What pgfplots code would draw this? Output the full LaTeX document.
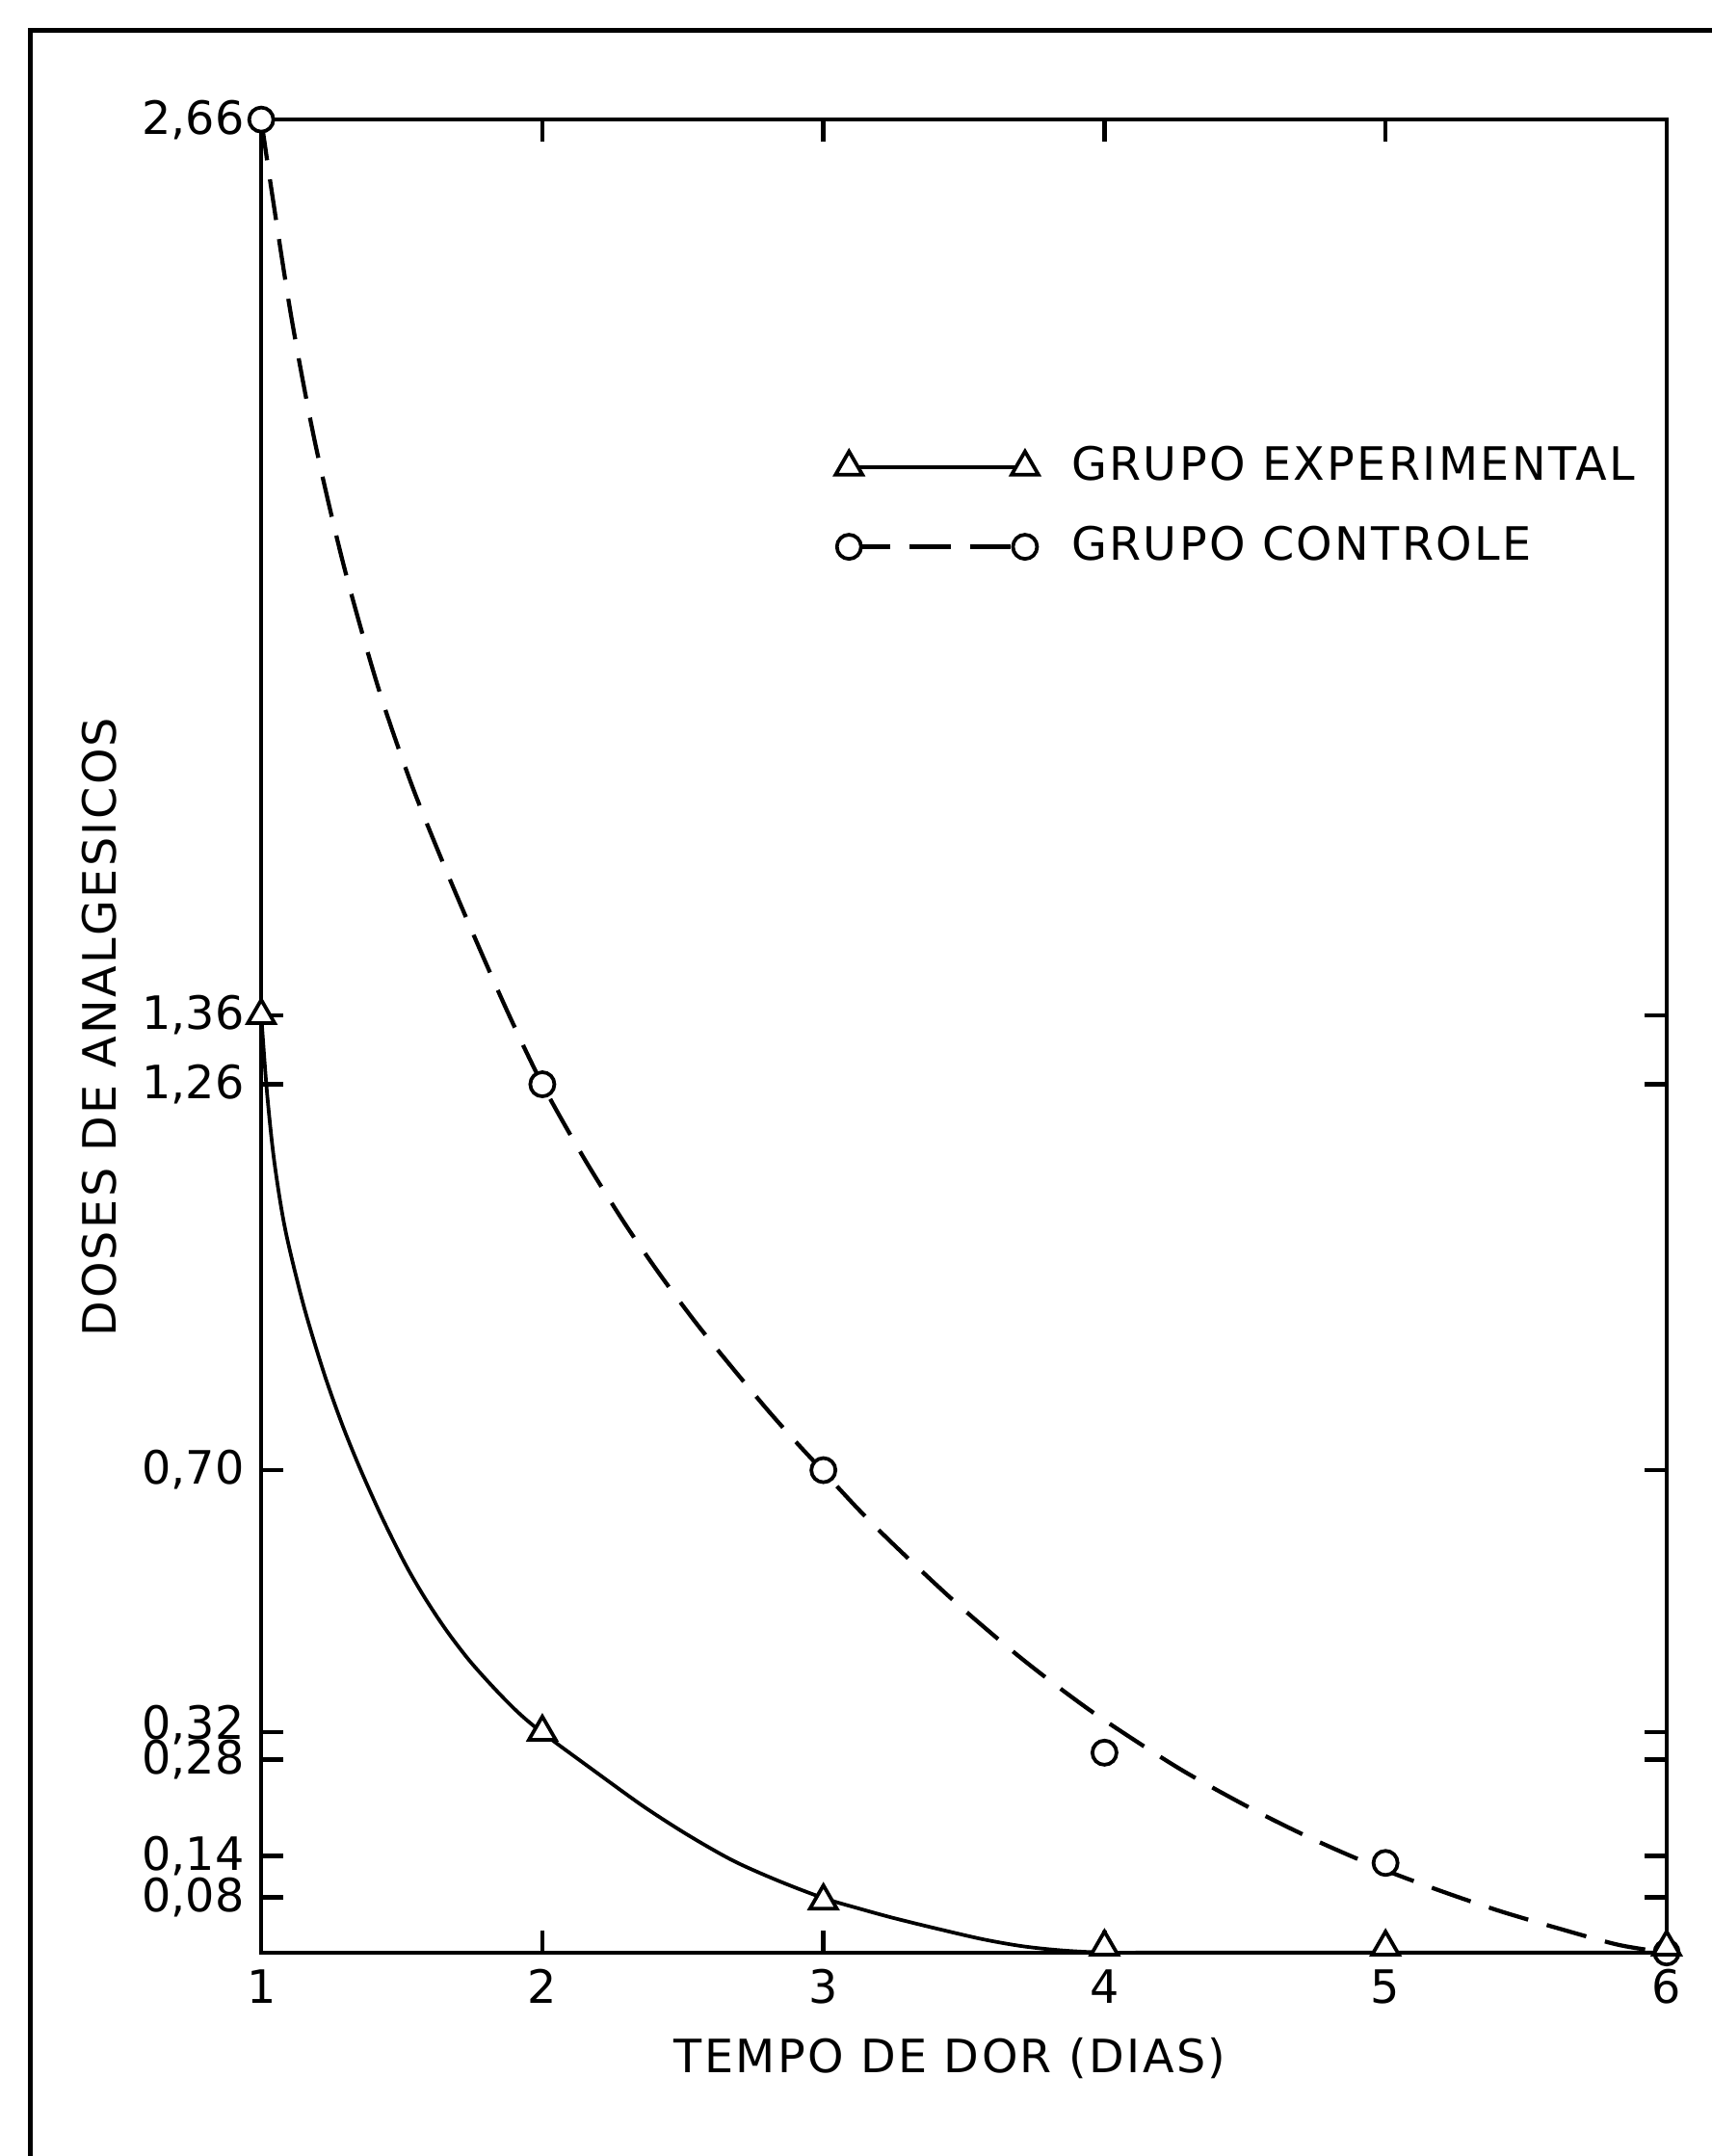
\documentclass[border=0pt]{standalone}
\usepackage{fontspec}
\setmainfont{DejaVu Sans}
\newfontfamily\lbl{DejaVu Sans}[LetterSpace=5]
\usepackage{pgfplots}
\pgfplotsset{compat=1.18}
\begin{document}
\begin{tikzpicture}
\useasboundingbox (-1.90cm,-1.48cm) rectangle (10.55cm,14.20cm);
\fill[white] (-1.90cm,-1.48cm) rectangle (10.55cm,14.20cm);
\draw[line width=1.1pt] (-1.68cm,-1.48cm) -- (-1.68cm,13.98cm) -- (10.55cm,13.98cm);
\begin{axis}[
  at={(0,0)}, anchor=south west,
  scale only axis, width=10.22cm, height=13.33cm,
  xmin=1, xmax=6, ymin=0, ymax=2.66,
  clip=false,
  axis line style={line width=0.9pt},
  tick align=inside,
  major tick length=1.6mm,
  every tick/.style={black, line width=0.9pt},
  xtick={1,2,3,4,5,6}, xticklabels={1,2,3,4,5,6},
  ytick={0.08,0.14,0.28,0.32,0.70,1.26,1.36,2.66},
  yticklabels={{0,08},{0,14},{\raisebox{-1.4mm}{0,28}},{\raisebox{1.4mm}{0,32}},{0,70},{1,26},{1,36},{2,66}},
  tick label style={font=\fontsize{9.5}{11}\selectfont},
  xlabel={TEMPO DE DOR (DIAS)},
  ylabel={DOSES DE ANALGESICOS},
  label style={font=\lbl\fontsize{9.5}{11}\selectfont},
  xlabel style={at={(axis description cs:0.49,-0.0578)}, anchor=center},
  ylabel style={at={(axis description cs:-0.1155,0.505)}, anchor=center},
  legend style={at={(axis cs:3.04,2.098)}, anchor=west, draw=none, fill=none,
    inner sep=0pt, row sep=1.4mm, font=\lbl\fontsize{9.5}{11}\selectfont,
    /tikz/every odd column/.append style={column sep=1.7mm}},
  legend cell align=left,
  legend image code/.code={\draw[#1] plot coordinates {(0cm,0cm) (1.28cm,0cm)};},
]
\addplot[black, line width=0.75pt, smooth, forget plot] coordinates {
 (1.000,1.360) (1.020,1.250) (1.046,1.149) (1.085,1.050) (1.150,0.940)
 (1.223,0.841) (1.290,0.764) (1.354,0.700) (1.430,0.631) (1.512,0.564)
 (1.580,0.516) (1.656,0.469) (1.740,0.424) (1.830,0.383) (1.915,0.348)
 (2.000,0.319) (2.180,0.265) (2.360,0.212) (2.520,0.170) (2.680,0.133)
 (2.840,0.104) (3.000,0.079) (3.125,0.064) (3.250,0.050) (3.410,0.034)
 (3.570,0.019) (3.710,0.009) (3.850,0.003) (4.000,0.000) (4.250,0.000)
 (4.500,0.000) (5.000,0.000) (5.500,0.000) (6.000,0.000)};
% control curve
\addplot[black, line width=0.85pt, smooth, dash pattern=on 8.5pt off 4pt, forget plot] coordinates {
 (1.000,2.660) (1.039,2.551) (1.108,2.371) (1.191,2.192) (1.294,2.012)
 (1.416,1.836) (1.533,1.697) (1.651,1.577) (1.768,1.465) (1.881,1.361)
 (2.000,1.260) (2.145,1.155) (2.290,1.060) (2.420,0.983) (2.550,0.912)
 (2.675,0.849) (2.800,0.788) (2.900,0.742) (3.000,0.698) (3.125,0.643)
 (3.250,0.592) (3.465,0.510) (3.680,0.435) (3.840,0.384) (4.000,0.337)
 (4.270,0.266) (4.540,0.205) (4.755,0.162) (4.970,0.124) (5.185,0.091)
 (5.400,0.061) (5.615,0.035) (5.830,0.011) (6.000,0.000)};
% markers
\addplot[only marks, mark=*, mark size=2.5pt, mark options={fill=white, draw=black, line width=0.75pt}, forget plot] coordinates {
 (1,2.66) (2,1.26) (3,0.70) (4,0.29) (5,0.13) (6,0.0)};
\addplot[only marks, mark=triangle*, mark size=3.2pt, mark options={fill=white, draw=black, line width=0.75pt}, forget plot] coordinates {
 (1,1.36) (2,0.32) (3,0.075) (4,0.008) (5,0.008) (6,0.008)};
% legend
\addlegendimage{black, line width=0.85pt, mark=triangle*, mark size=3.2pt, mark options={fill=white, solid, line width=0.75pt}}
\addlegendentry{GRUPO EXPERIMENTAL}
\addlegendimage{black, line width=0.85pt, dash pattern=on 8.5pt off 4pt, mark=*, mark size=2.5pt, mark options={fill=white, solid, line width=0.75pt}}
\addlegendentry{GRUPO CONTROLE}
\end{axis}
\end{tikzpicture}
\end{document}
